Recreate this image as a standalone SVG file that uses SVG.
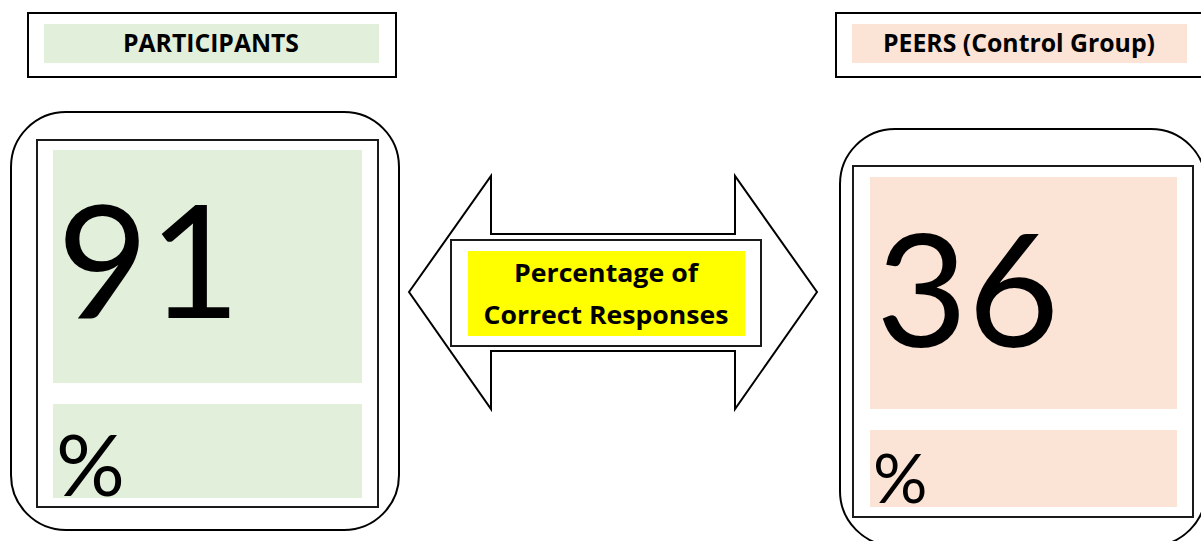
<svg xmlns="http://www.w3.org/2000/svg" width="1201" height="541" viewBox="0 0 1201 541">
  <style>
    .frame { fill: #ffffff; stroke: #000000; stroke-width: 2; }
    .inner { fill: #ffffff; stroke: #1a1a1a; stroke-width: 2; }
    .green { fill: #e2efda; }
    .peach { fill: #fbe3d6; }
    .label { font-family: "Open Sans", Lato, sans-serif; font-weight: bold; fill: #000000; }
    .big { font-family: Lato, "Open Sans", sans-serif; fill: #000000; }
  </style>

  <rect width="1201" height="541" fill="#ffffff"/>

  <!-- header: participants -->
  <g id="header-participants">
    <rect class="frame" x="28" y="13" width="368" height="64"/>
    <rect class="green" x="44" y="24" width="335" height="39"/>
    <text class="label" x="211" y="52" font-size="25" text-anchor="middle" textLength="176" lengthAdjust="spacingAndGlyphs">PARTICIPANTS</text>
  </g>

  <!-- header: peers -->
  <g id="header-peers">
    <rect class="frame" x="836" y="13" width="380" height="64"/>
    <rect class="peach" x="852" y="24" width="335" height="39"/>
    <text class="label" x="1019" y="52" font-size="25" text-anchor="middle" textLength="272" lengthAdjust="spacingAndGlyphs">PEERS (Control Group)</text>
  </g>

  <!-- participants score card -->
  <g id="card-participants">
    <rect class="frame" x="11" y="112" width="388" height="418" rx="55" ry="55"/>
    <rect class="inner" x="37" y="140" width="341" height="367"/>
    <rect class="green" x="53" y="150" width="309" height="233"/>
    <rect class="green" x="53" y="404" width="309" height="94"/>
    <text class="big" x="57" y="318" font-size="158">91</text>
    <text class="big" x="56" y="496" font-size="86">%</text>
  </g>

  <!-- peers score card -->
  <g id="card-peers">
    <rect class="frame" x="840" y="129" width="366" height="417" rx="55" ry="55"/>
    <rect class="inner" x="853" y="166" width="340" height="351"/>
    <rect class="peach" x="870" y="177" width="307" height="232"/>
    <rect class="peach" x="870" y="430" width="307" height="77"/>
    <text class="big" x="876" y="347" font-size="158">36</text>
    <text class="big" x="873" y="503" font-size="68">%</text>
  </g>

  <!-- connector: double-headed arrow with its caption -->
  <g id="connectors">
    <polygon class="frame" points="409,292 491,176 491,234 735,234 735,176 817,292 735,409 735,351 491,351 491,409"/>
    <rect class="inner" x="451" y="240" width="310" height="106"/>
    <rect x="468" y="251" width="277" height="85" fill="#ffff00"/>
    <text class="label" x="606" y="282" font-size="25" text-anchor="middle" textLength="184" lengthAdjust="spacingAndGlyphs">Percentage of</text>
    <text class="label" x="606" y="324" font-size="25" text-anchor="middle" textLength="245" lengthAdjust="spacingAndGlyphs">Correct Responses</text>
  </g>
</svg>
